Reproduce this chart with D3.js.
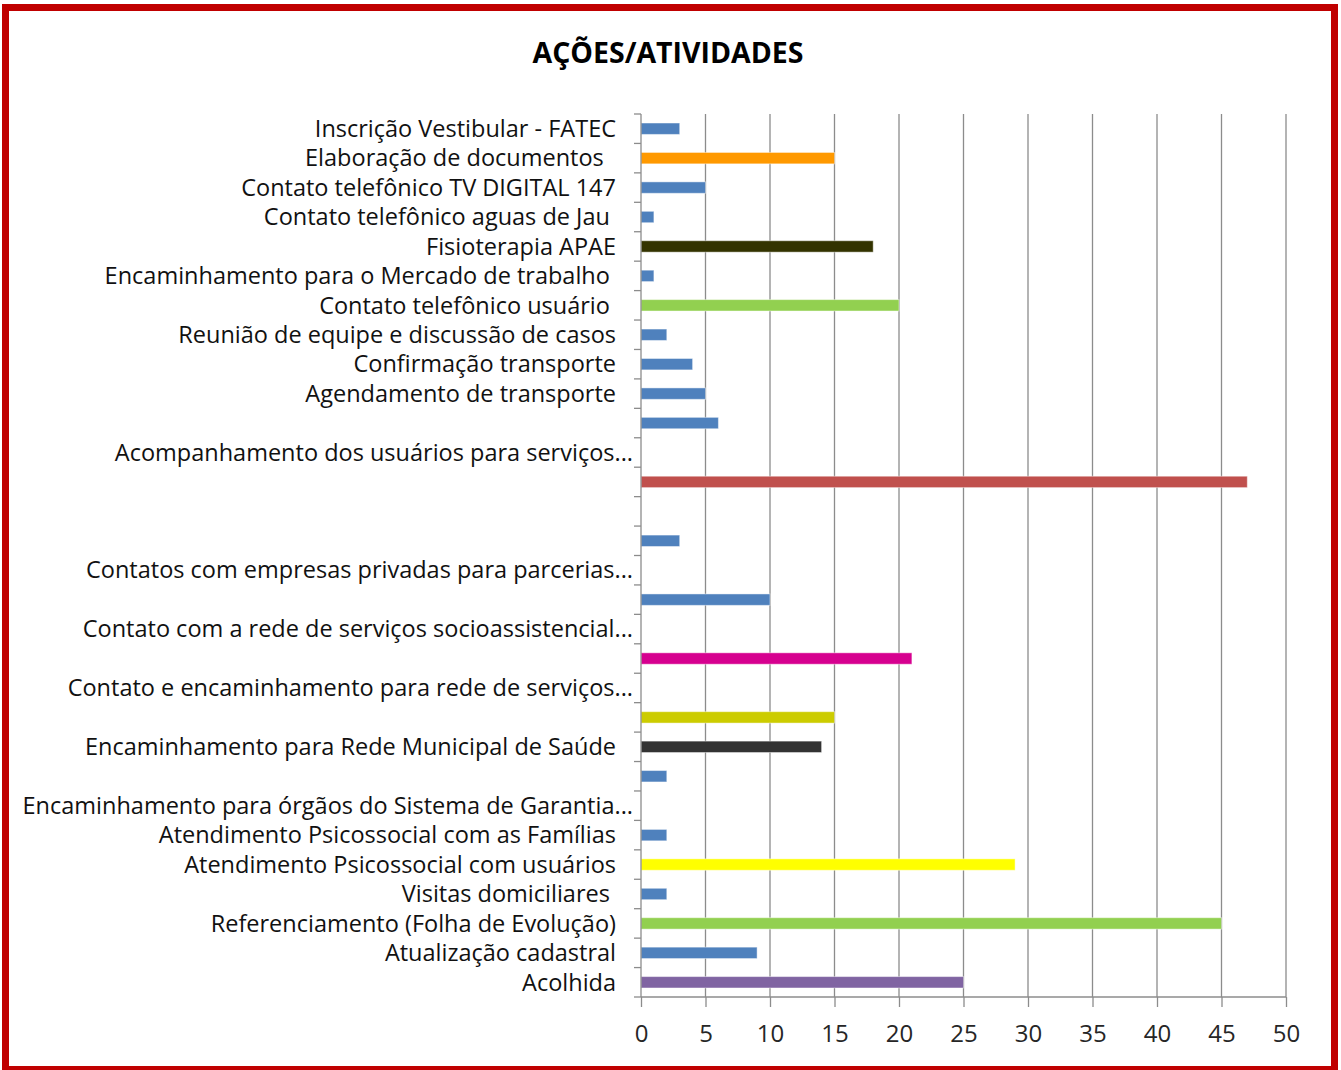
<!DOCTYPE html>
<html>
<head>
<meta charset="utf-8">
<script src="https://cdn.jsdelivr.net/npm/d3@7"></script>
<style>
  html, body { margin: 0; padding: 0; background: #fff; }
  svg { display: block; }
  text { white-space: pre; }
</style>
</head>
<body>
<div id="chart"></div>
<script>
// categories from top to bottom, as they appear in the chart
const categories = [
    "Inscrição Vestibular - FATEC",
    "Elaboração de documentos  ",
    "Contato telefônico TV DIGITAL 147",
    "Contato telefônico aguas de Jau ",
    "Fisioterapia APAE",
    "Encaminhamento para o Mercado de trabalho ",
    "Contato telefônico usuário ",
    "Reunião de equipe e discussão de casos",
    "Confirmação transporte",
    "Agendamento de transporte",
    "",
    "Acompanhamento dos usuários para serviços...",
    "",
    "",
    "",
    "Contatos com empresas privadas para parcerias...",
    "",
    "Contato com a rede de serviços socioassistencial...",
    "",
    "Contato e encaminhamento para rede de serviços...",
    "",
    "Encaminhamento para Rede Municipal de Saúde",
    "",
    "Encaminhamento para órgãos do Sistema de Garantia...",
    "Atendimento Psicossocial com as Famílias",
    "Atendimento Psicossocial com usuários",
    "Visitas domiciliares ",
    "Referenciamento (Folha de Evolução)",
    "Atualização cadastral",
    "Acolhida"
];

const values = [3, 15, 5, 1, 18, 1, 20, 2, 4, 5, 6, null, 47, null, 3, null, 10, null, 21, null, 15, 14, 2, null, 2, 29, 2, 45, 9, 25];

const barColors = [
    "#4f81bd", "#ff9900", "#4f81bd", "#4f81bd", "#333300", "#4f81bd", "#92d050", "#4f81bd", "#4f81bd", "#4f81bd",
    "#4f81bd", "#4f81bd", "#c0504d", "#4f81bd", "#4f81bd", "#4f81bd", "#4f81bd", "#4f81bd", "#d6008f", "#4f81bd",
    "#cccc00", "#333333", "#4f81bd", "#4f81bd", "#4f81bd", "#ffff00", "#4f81bd", "#92d050", "#4f81bd", "#8064a2"
];

const xTicks = [0, 5, 10, 15, 20, 25, 30, 35, 40, 45, 50];

const W = 1341, H = 1070;
const font = "'Open Sans', sans-serif";

const svg = d3.select("#chart").append("svg")
    .attr("width", W)
    .attr("height", H);

// red frame
svg.append("rect")
    .attr("x", 5.5).attr("y", 7.5)
    .attr("width", 1329).attr("height", 1062)
    .attr("fill", "#fff")
    .attr("stroke", "#c00000")
    .attr("stroke-width", 7);

// title
svg.append("text")
    .attr("x", 668).attr("y", 63)
    .attr("text-anchor", "middle")
    .style("font-family", font)
    .style("font-weight", "bold")
    .style("font-size", "28.5px")
    .attr("fill", "#000")
    .text("AÇÕES/ATIVIDADES");

const x = d3.scaleLinear().domain([0, 50]).range([641, 1286]);
const slot = d3.scaleBand().domain(d3.range(categories.length)).range([114, 997]);

// gridlines
svg.append("g")
    .selectAll("line")
    .data(xTicks.slice(1))
    .enter().append("line")
    .attr("x1", d => x(d)).attr("x2", d => x(d))
    .attr("y1", 114).attr("y2", 997)
    .attr("stroke", "#8c8c8c")
    .attr("stroke-width", 1.3);

// bars
svg.append("g")
    .selectAll("rect")
    .data(values.map((v, i) => ({ v, i })).filter(d => d.v !== null))
    .enter().append("rect")
    .attr("x", x(0))
    .attr("y", d => slot(d.i) + slot.bandwidth() / 2 - 5.7)
    .attr("width", d => x(d.v) - x(0))
    .attr("height", 11.4)
    .attr("fill", d => barColors[d.i])
    .attr("stroke", "rgba(255,255,255,0.45)")
    .attr("stroke-width", 1);

// y axis with ticks at category boundaries
const yAxis = svg.append("g");
yAxis.append("line")
    .attr("x1", 641).attr("x2", 641)
    .attr("y1", 114).attr("y2", 997)
    .attr("stroke", "#8c8c8c").attr("stroke-width", 1.3);
yAxis.selectAll("line.tick")
    .data(d3.range(categories.length + 1))
    .enter().append("line")
    .attr("class", "tick")
    .attr("x1", 634).attr("x2", 641)
    .attr("y1", d => 114 + d * slot.step())
    .attr("y2", d => 114 + d * slot.step())
    .attr("stroke", "#8c8c8c").attr("stroke-width", 1.3);

// category labels
svg.append("g")
    .selectAll("text")
    .data(categories)
    .enter().append("text")
    .attr("x", d => d.endsWith("...") ? 633 : 616)
    .attr("y", (d, i) => slot(i) + slot.bandwidth() / 2)
    .attr("dy", "0.35em")
    .attr("text-anchor", "end")
    .style("font-family", font)
    .style("font-size", "23.5px")
    .attr("fill", "#111")
    .text(d => d);

// x axis
const xAxis = svg.append("g")
    .attr("transform", "translate(0,997)")
    .call(d3.axisBottom(x).tickValues(xTicks).tickSize(10).tickPadding(18));
xAxis.select(".domain").attr("stroke", "#8c8c8c").attr("stroke-width", 1.3).attr("d", "M641,0H1286");
xAxis.selectAll(".tick line").attr("stroke", "#8c8c8c").attr("stroke-width", 1.3);
xAxis.selectAll(".tick text")
    .style("font-family", font)
    .style("font-size", "24px")
    .attr("fill", "#262626");
</script>
</body>
</html>
